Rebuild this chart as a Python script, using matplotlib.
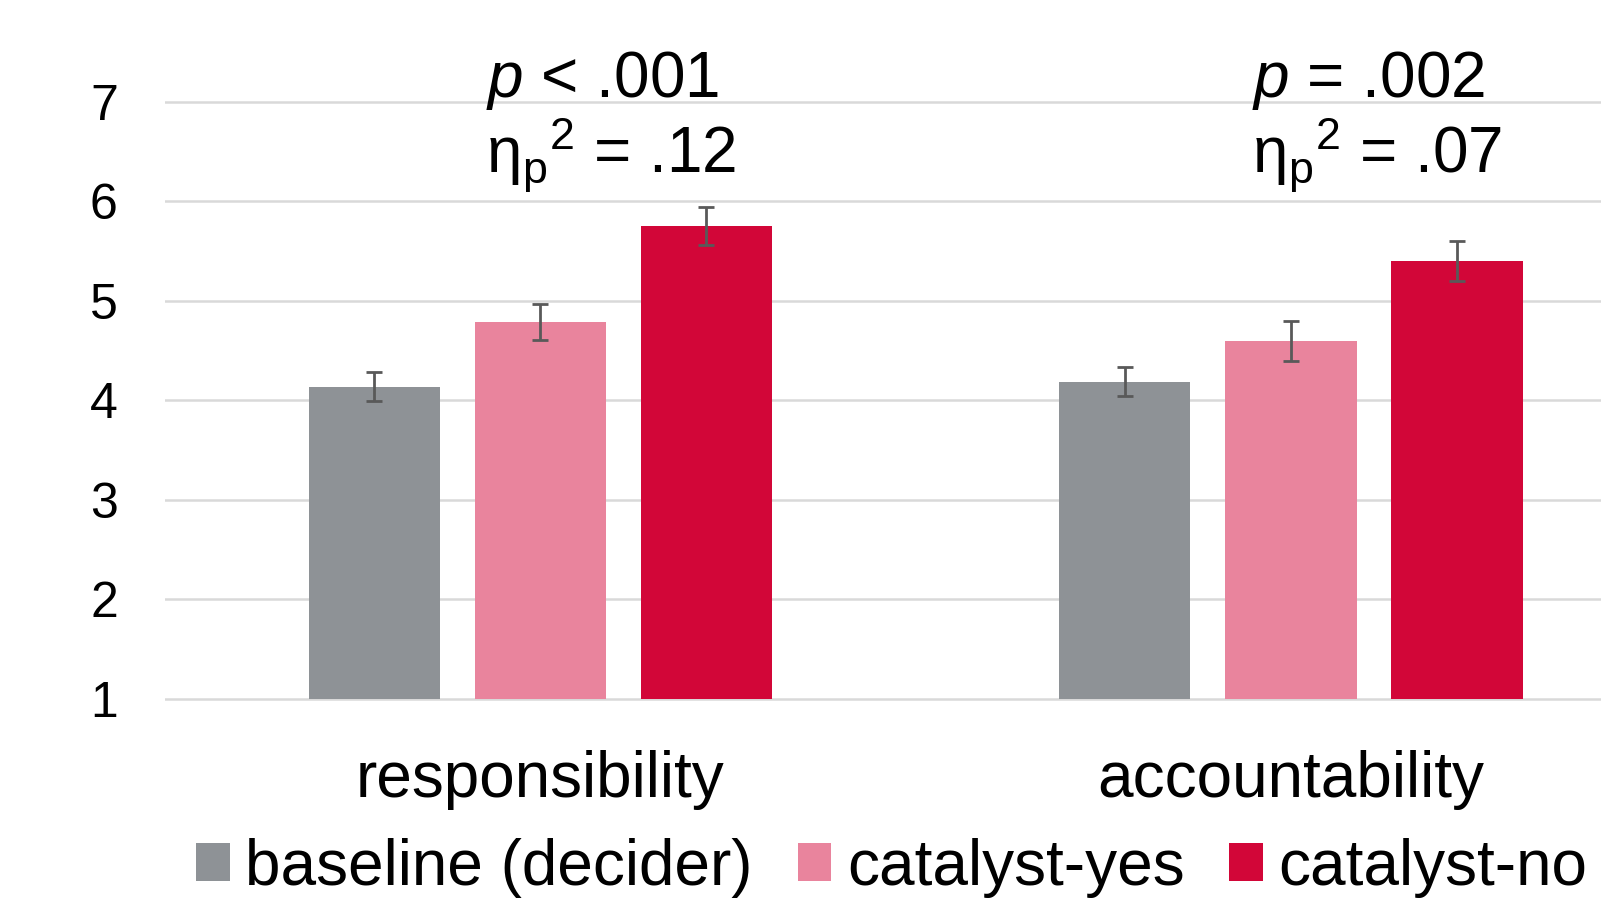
import numpy as np
import matplotlib
matplotlib.use("Agg")
import matplotlib.pyplot as plt
from matplotlib.patches import Patch
from matplotlib.transforms import blended_transform_factory

plt.rcParams['font.family'] = ['Liberation Sans', 'DejaVu Sans']
plt.rcParams['mathtext.fontset'] = 'custom'
plt.rcParams['mathtext.rm'] = 'Liberation Sans'
plt.rcParams['mathtext.it'] = 'Liberation Sans:italic'

# Datos
categories = ['responsibility', 'accountability']
groups = ['baseline (decider)', 'catalyst-yes', 'catalyst-no']
means = {
    'baseline (decider)': [4.14, 4.19],
    'catalyst-yes': [4.79, 4.60],
    'catalyst-no': [5.75, 5.40],
}
errors = {
    'baseline (decider)': [0.15, 0.15],
    'catalyst-yes': [0.18, 0.20],
    'catalyst-no': [0.19, 0.20],
}
p_labels = [r'$\mathit{p}$ < .001', r'$\mathit{p}$ = .002']
eta_labels = [r'$\mathrm{η}_\mathrm{p}{}^\mathrm{2}$ = .12', r'$\mathrm{η}_\mathrm{p}{}^\mathrm{2}$ = .07']
yticks = [1, 2, 3, 4, 5, 6, 7]
base = 1  # la escala empieza en 1

colors = ['#8E9296', '#E9849D', '#D20638']

fig = plt.figure(figsize=(16.01, 8.98), dpi=100)
ax = fig.add_axes([165 / 1601, 0.2183, 1 - 165 / 1601, 0.6715])

x = np.arange(len(categories))
width = 0.1746
offsets = [-0.2212, 0.0, 0.2212]

for g, off, c in zip(groups, offsets, colors):
    vals = np.array(means[g])
    ax.bar(x + off, vals - base, width, bottom=base, color=c, zorder=3, label=g)
    ax.errorbar(x + off, vals, yerr=errors[g], fmt='none', ecolor='#595959',
                elinewidth=2, capsize=5.5, capthick=2, zorder=4)

ax.set_ylim(0.97, 7.03)
ax.set_xlim(-0.5, 1.413)
ax.set_yticks(yticks)
ax.set_yticklabels([str(t) for t in yticks], fontsize=36)
ax.tick_params(axis='y', length=0, pad=34)
ax.set_xticks([])
ax.grid(axis='y', color='#D9D9D9', linewidth=1.8, zorder=0)
ax.set_axisbelow(True)
for s in ax.spines.values():
    s.set_visible(False)

trans = blended_transform_factory(ax.transData, fig.transFigure)

# Etiquetas de categoría
for xi, cat in zip(x, categories):
    ax.text(xi, 0.1125, cat, transform=trans, fontsize=46, ha='center', va='baseline')

# Anotaciones estadísticas
ann_x = [-0.073, 0.948]
for xi, pl, el in zip(ann_x, p_labels, eta_labels):
    ax.text(xi, 0.892, pl, transform=trans, fontsize=46, ha='left', va='baseline')
    ax.text(xi, 0.806, el, transform=trans, fontsize=46, ha='left', va='baseline')

handles = [Patch(facecolor=c, edgecolor='none') for c in colors]
fig.legend(handles, groups, loc='lower center', bbox_to_anchor=(0.557, -0.028),
           ncol=3, frameon=False, fontsize=46, handlelength=0.53, handleheight=0.53,
           handletextpad=0.24, columnspacing=0.7, borderaxespad=0)

fig.savefig('out.png', dpi=100, facecolor='white')
